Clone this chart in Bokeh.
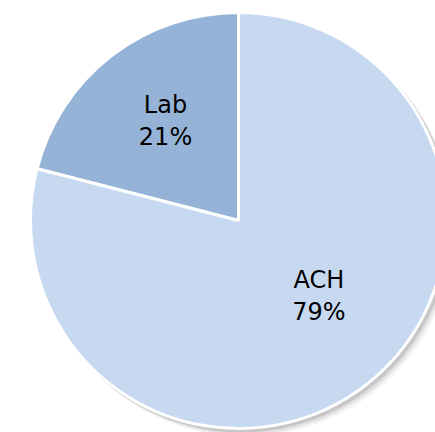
import math
from bokeh.plotting import figure
from bokeh.models import ColumnDataSource
from bokeh.core.properties import value
from bokeh.embed import file_html
from bokeh.resources import INLINE

categories = ["Lab", "ACH"]
shares = [21, 79]
colors = ["#95B3D7", "#C6D9F0"]

W, H = 435, 432
CX, CY, R = 238, 212, 208

total = sum(shares)
starts, ends = [], []
a = math.pi / 2
for s in shares:
    starts.append(a)
    a += 2 * math.pi * s / total
    ends.append(a)

p = figure(width=W, height=H, output_backend="svg", toolbar_location=None,
           x_range=(0, W), y_range=(0, H), min_border=0)
p.axis.visible = False
p.grid.visible = False
p.outline_line_color = None
p.background_fill_color = "white"
p.border_fill_color = "white"

# soft shadow
for off, alpha in [(7, 0.06), (5, 0.10), (3, 0.16)]:
    p.circle(x=[CX + off], y=[CY - off], radius=R + 1, fill_color="#404040",
             fill_alpha=alpha, line_color=None)

src = ColumnDataSource(dict(x=[CX] * len(shares), y=[CY] * len(shares),
                            start=starts, end=ends, color=colors))
p.wedge(x="x", y="y", radius=R, start_angle="start", end_angle="end",
        direction="anticlock", fill_color="color", line_color="white",
        line_width=3, source=src)

# labels
label_pos = {"Lab": (126.4, 123), "ACH": (317.0, 110)}
lx, ly, l1, l2 = [], [], [], []
for c, s in zip(categories, shares):
    ang, rr = label_pos[c]
    lx.append(CX + rr * math.cos(math.radians(ang)))
    ly.append(CY + rr * math.sin(math.radians(ang)))
    l1.append(c)
    l2.append(f"{round(100 * s / total)}%")
lsrc = ColumnDataSource(dict(x=lx, y=ly, l1=l1, l2=l2))
common = dict(text_align="center", text_baseline="middle",
              text_font=value("DejaVu Sans"), text_font_size="24px",
              text_color="#000000", source=lsrc)
p.text(x="x", y="y", text="l1", y_offset=-16, **common)
p.text(x="x", y="y", text="l2", y_offset=16, **common)

open("out.html", "w").write(file_html(p, INLINE))
